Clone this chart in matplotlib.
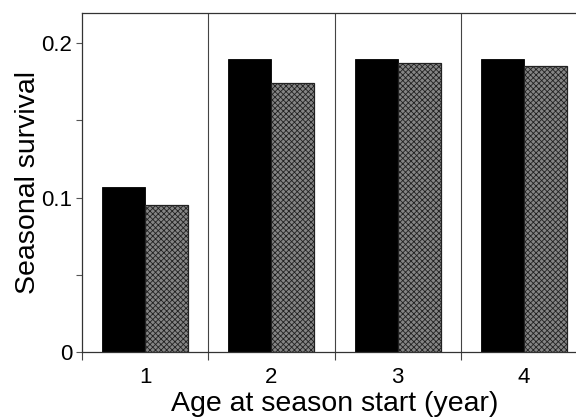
import matplotlib.pyplot as plt
import numpy as np

plt.rcParams['font.family'] = ['Liberation Sans', 'DejaVu Sans']
plt.rcParams['hatch.color'] = '#d2d2d2'
plt.rcParams['hatch.linewidth'] = 0.6

ages = [1, 2, 3, 4]
survival_black = [0.107, 0.190, 0.190, 0.190]
survival_gray = [0.095, 0.174, 0.187, 0.185]
ytick_vals = [0, 0.1, 0.2]
ytick_labels = ["0", "0.1", "0.2"]

fig = plt.figure(figsize=(5.76, 4.18), dpi=100)
ax = fig.add_axes([82 / 576, 1 - 352 / 418, 505 / 576, 339 / 418])

x = np.array(ages, dtype=float)
w = 0.34
ax.bar(x - w / 2, survival_black, w, color="black", edgecolor="black", linewidth=0.6)
ax.bar(x + w / 2, survival_gray, w, color="#858585", edgecolor="#222222", linewidth=0.9,
       hatch="xxxxxx")

# group separators
for b in [1.5, 2.5, 3.5]:
    ax.axvline(b, color="#444444", linewidth=0.8, zorder=0)

ax.set_xlim(0.5, 4.5)
ax.set_ylim(0, 0.2195)

ax.set_xticks([0.5, 1.5, 2.5, 3.5, 4.5])
ax.set_xticklabels([])
ax.set_xticks(ages, minor=True)
ax.set_xticklabels([str(a) for a in ages], minor=True, fontsize=16)
ax.tick_params(axis="x", which="major", direction="out", length=6, width=0.8, color="#444444")
ax.tick_params(axis="x", which="minor", length=0, pad=11)

ax.set_yticks(ytick_vals)
ax.set_yticklabels(ytick_labels, fontsize=16)
ax.set_yticks([0.05, 0.15], minor=True)
ax.tick_params(axis="y", which="both", direction="out", length=4, width=0.8, color="#555555",
               pad=3)

for s in ax.spines.values():
    s.set_linewidth(0.9)
    s.set_color("#333333")
ax.spines["right"].set_visible(False)

ax.set_xlabel("Age at season start (year)", fontsize=20.5, labelpad=2)
ax.set_ylabel("Seasonal survival", fontsize=20.5, labelpad=0)

fig.savefig("out.png", dpi=100)
